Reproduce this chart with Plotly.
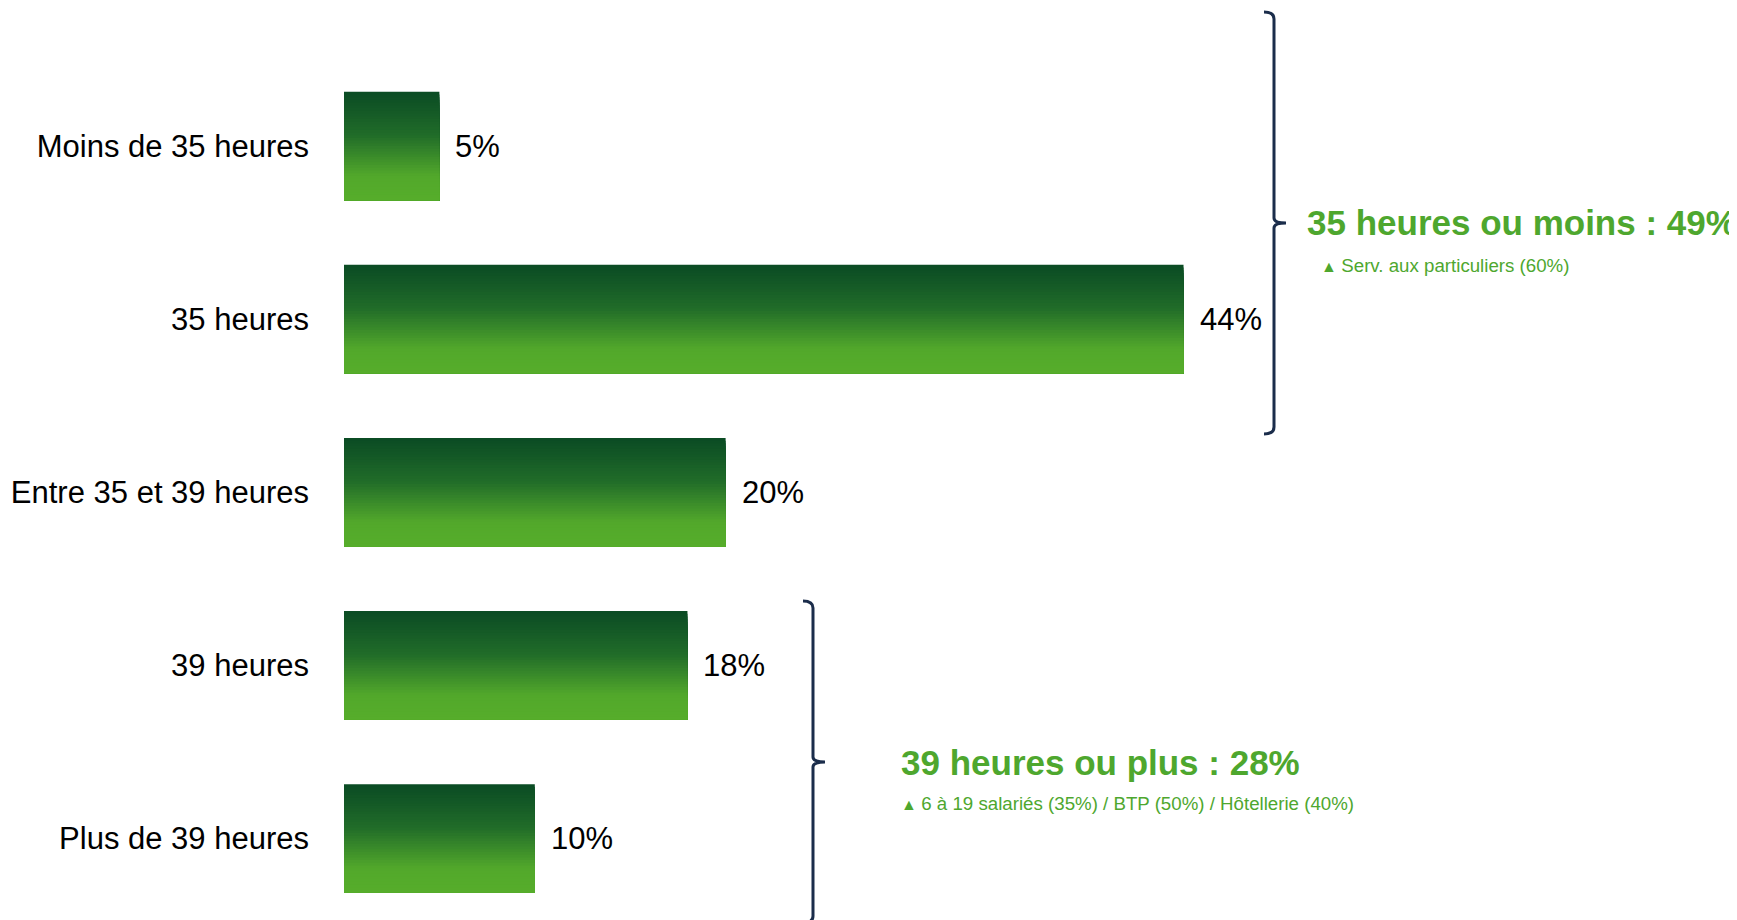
import plotly.graph_objects as go

categories = ["Moins de 35 heures", "35 heures", "Entre 35 et 39 heures", "39 heures", "Plus de 39 heures"]
values = [5, 44, 20, 18, 10]
value_labels = ["5%", "44%", "20%", "18%", "10%"]

group_titles = ["35 heures ou moins : 49%", "39 heures ou plus : 28%"]
group_notes = ["Serv. aux particuliers (60%)", "6 à 19 salariés (35%) / BTP (50%) / Hôtellerie (40%)"]

# the page body adds an 8px margin, so the figure is shrunk and shifted by that much
OFF = 8
W, H = 1737 - OFF, 920 - OFF
ML = 344 - OFF
GREEN = "#4ea72e"
NAVY = "#1b2d4b"
FONT = "Liberation Sans, Arial, sans-serif"

# vertical gradient stops (top -> bottom)
stops = [(0.0, (11, 76, 36)), (0.4, (33, 108, 41)), (0.78, (82, 168, 43)), (1.0, (86, 173, 43))]


def grad(t):
    for (t0, c0), (t1, c1) in zip(stops[:-1], stops[1:]):
        if t <= t1:
            f = (t - t0) / (t1 - t0)
            return "rgb(%d,%d,%d)" % tuple(round(a + (b - a) * f) for a, b in zip(c0, c1))
    return "rgb(%d,%d,%d)" % stops[-1][1]


def px(x, y):
    # reference pixel -> paper coords
    return (x - OFF - ML) / (W - ML), 1 - (y - OFF) / H


fig = go.Figure()

bar_h = 0.627
n_strips = 40
for k in range(n_strips):
    step = bar_h / n_strips
    fig.add_trace(go.Bar(
        x=values, y=categories, orientation="h",
        offset=-bar_h / 2 + k * step, width=bar_h - k * step,
        marker=dict(color=grad(k / (n_strips - 1)), line=dict(width=0)),
        hoverinfo="skip", showlegend=False,
    ))

for cat, v, lab in zip(categories, values, value_labels):
    fig.add_annotation(x=v, y=cat, xref="x", yref="y", text=lab, showarrow=False,
                       xanchor="left", yanchor="middle", xshift=14,
                       font=dict(size=31, color="#000000", family=FONT))


def bracket(x, y_top, y_mid, y_bot, hook=10, tick=12, r=7, rm=5):
    pts = []
    x0, y0 = px(x - hook, y_top)
    pts.append("M %f,%f" % (x0, y0))
    a = px(x, y_top); b = px(x, y_top + r)
    pts.append("Q %f,%f %f,%f" % (a[0], a[1], b[0], b[1]))
    c = px(x, y_mid - rm); pts.append("L %f,%f" % c)
    d = px(x, y_mid); e = px(x + tick, y_mid)
    pts.append("Q %f,%f %f,%f" % (d[0], d[1], e[0], e[1]))
    pts.append("M %f,%f" % e)
    f = px(x, y_mid + rm)
    pts.append("Q %f,%f %f,%f" % (d[0], d[1], f[0], f[1]))
    g = px(x, y_bot - r); pts.append("L %f,%f" % g)
    hh = px(x, y_bot); i = px(x - hook, y_bot)
    pts.append("Q %f,%f %f,%f" % (hh[0], hh[1], i[0], i[1]))
    fig.add_shape(type="path", path=" ".join(pts), xref="paper", yref="paper",
                  line=dict(color=NAVY, width=3))


bracket(1274, 12, 223, 434)
bracket(813, 601, 762, 923)

title_pos = [(1305, 222), (899, 762)]
note_pos = [(1319, 265), (899, 803)]
for (tx, ty), (nx, ny), title, note in zip(title_pos, note_pos, group_titles, group_notes):
    xp, yp = px(tx, ty)
    fig.add_annotation(x=xp, y=yp, xref="paper", yref="paper", text="<b>%s</b>" % title,
                       showarrow=False, xanchor="left", yanchor="middle",
                       font=dict(size=35, color=GREEN, family=FONT))
    xp, yp = px(nx, ny)
    fig.add_annotation(x=xp, y=yp, xref="paper", yref="paper",
                       text="<span style='font-size:16px'>▲ </span>" + note,
                       showarrow=False, xanchor="left", yanchor="middle",
                       font=dict(size=18.7, color=GREEN, family=FONT))

fig.update_layout(
    width=W, height=H,
    margin=dict(l=ML, r=0, t=0, b=0, pad=0),
    plot_bgcolor="white", paper_bgcolor="white",
    barmode="overlay",
    showlegend=False,
)
# 19.08 px per percentage point; category pitch 173.1 px, first centre at 146 px
fig.update_xaxes(range=[0, (W - ML) / 19.08], visible=False, fixedrange=True)
top = -(146 - OFF) / 173.1
fig.update_yaxes(range=[top + H / 173.1, top], autorange=False, showgrid=False, zeroline=False,
                 showline=False, ticks="", ticklabelstandoff=34,
                 tickfont=dict(size=31, color="#000000", family=FONT), fixedrange=True)

fig.write_html("out.html")
